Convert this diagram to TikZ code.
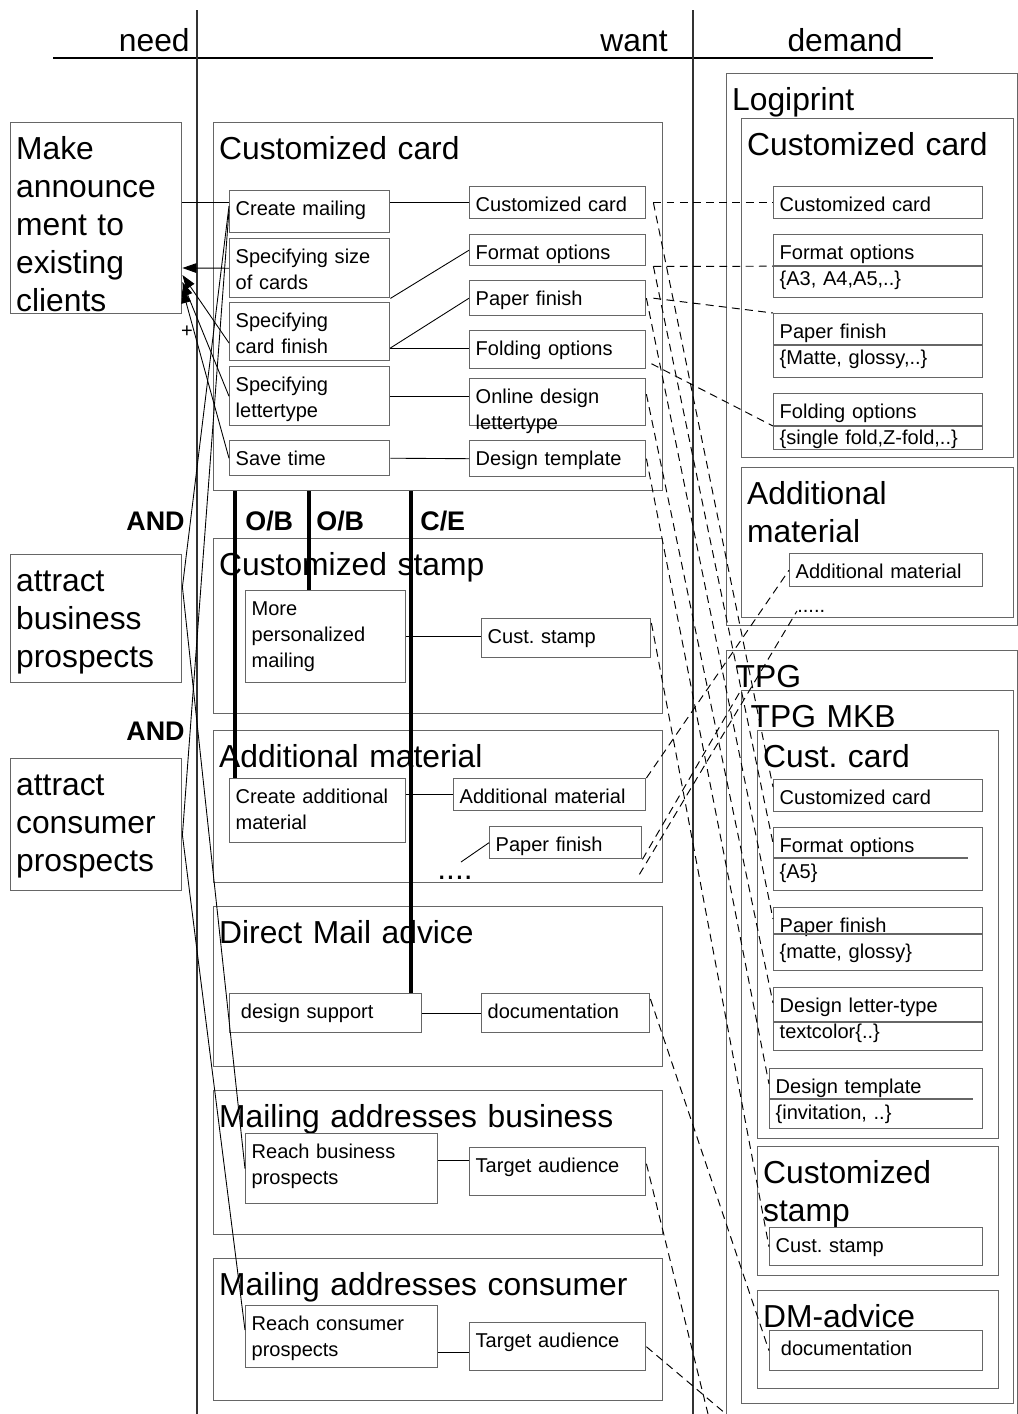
\documentclass[tikz,border=0pt]{standalone}
\usepackage{fontspec}
\setmainfont{Liberation Sans}
\usetikzlibrary{positioning,calc,arrows.meta}

\newcommand{\pxunit}{0.02cm}
\newcommand{\titlefont}{\fontsize{18.1}{21.7}\selectfont}
\newcommand{\itemfont}{\fontsize{11.4}{14.7}\selectfont}
\newcommand{\tagfont}{\fontsize{15.3}{18}\selectfont\bfseries}
\frenchspacing

\begin{document}
\begin{tikzpicture}[
    x=0.02cm, y=-0.02cm,
    groupbox/.style 2 args={
        draw=black!60, line width=0.8pt, anchor=north west,
        minimum width=#1*\pxunit, text width=#1*\pxunit-6.2pt,
        inner xsep=3.1pt, inner ysep=0pt,
        text height=36.4*\pxunit, text depth=(#2-36.4)*\pxunit,
        align=left, font=\titlefont
    },
    itembox/.style 2 args={
        draw=black!60, line width=0.8pt, anchor=north west,
        minimum width=#1*\pxunit, text width=#1*\pxunit-6.8pt,
        inner xsep=3.4pt, inner ysep=0pt,
        text height=25.2*\pxunit, text depth=(#2-25.2)*\pxunit,
        align=left, font=\itemfont
    },
    headtext/.style={font=\titlefont, inner sep=0pt},
    tag/.style={font=\tagfont, inner sep=0pt},
    link/.style={line width=0.5pt},
    contrib/.style={link, -{Triangle[length=8pt, width=5.5pt]}},
    decomp/.style={line width=2pt},
    mapline/.style={line width=0.55pt, dash pattern=on 4.5pt off 3pt},
    divider/.style={draw=black!60, line width=0.8pt}
]
\useasboundingbox (0,0) rectangle (1018,1414);

% Header
\draw[line width=0.8pt] (53,58) -- (933,58);
\draw[line width=0.7pt, black!80] (197,10) -- (197,1414);
\draw[line width=0.7pt, black!80] (693,10) -- (693,1414);
\node[headtext, anchor=base east] (needhead) at (190,51) {need};
\node[headtext, anchor=base east] (wanthead) at (668,51) {want};
\node[headtext, anchor=base] (demandhead) at (845,51) {demand};

% Need column
\node[groupbox={171}{191}] (announce) at (10,122) {Make\\announce\\ment to\\existing\\clients};
\node[groupbox={171}{128}] (business) at (10,554) {attract\\business\\prospects};
\node[groupbox={171}{132}] (consumer) at (10,758) {attract\\consumer\\prospects};
\node[tag, anchor=east] (and1) at (185,521) {AND};
\node[tag, anchor=east] (and2) at (185,731) {AND};
\node[font=\itemfont, inner sep=0pt] (plus) at (187,332) {+};

% Want column: groups
\node[groupbox={449}{368}] (gcard) at (213,122) {Customized card};
\node[groupbox={449}{175}] (gstamp) at (213,538) {Customized stamp};
\node[groupbox={449}{152}] (gadd) at (213,730) {Additional material};
\node[groupbox={449}{160}] (gdm) at (213,906) {Direct Mail advice};
\node[groupbox={449}{144}] (gbus) at (213,1090) {Mailing addresses business};
\node[groupbox={449}{142}] (gcon) at (213,1258) {Mailing addresses consumer};

% Customized card
\node[itembox={160}{42}] (mailing) at (229,190) {Create mailing};
\node[itembox={160}{59}] (size) at (229,238) {Specifying size\\of cards};
\node[itembox={160}{58}] (finish) at (229,302) {Specifying\\card finish};
\node[itembox={160}{59}] (letter) at (229,366) {Specifying\\lettertype};
\node[itembox={160}{35}] (savetime) at (229,440) {Save time};
\node[itembox={176}{32}] (wcard) at (469,186) {Customized card};
\node[itembox={176}{31}] (wformat) at (469,234) {Format options};
\node[itembox={176}{35}] (wpaper) at (469,280) {Paper finish};
\node[itembox={176}{38}] (wfold) at (469,330) {Folding options};
\node[itembox={176}{47}] (wonline) at (469,378) {Online design\\lettertype};
\node[itembox={176}{36}] (wtemplate) at (469,440) {Design template};

% Customized stamp
\node[itembox={160}{92}] (personal) at (245,590) {More\\personalized\\mailing};
\node[itembox={169}{39}] (wstamp) at (481,618) {Cust. stamp};

% Additional material
\node[itembox={176}{64}] (createadd) at (229,778) {Create additional\\material};
\node[itembox={192}{32}] (wadd) at (453,778) {Additional material};
\node[itembox={152}{32}] (wpaper2) at (489,826) {Paper finish};
\node[font=\titlefont, anchor=base west, inner sep=0pt] (adddots) at (437,879) {....};
\coordinate (adddotsend) at (461,862);

% Direct Mail advice
\node[itembox={192}{39}] (support) at (229,993) {\hspace*{3pt}design support};
\node[itembox={168}{39}] (wdoc) at (481,993) {documentation};

% Mailing addresses
\node[itembox={192}{70}] (reachbus) at (245,1133) {Reach business\\prospects};
\node[itembox={176}{48}] (wtarget1) at (469,1147) {Target audience};
\node[itembox={192}{62}] (reachcon) at (245,1305) {Reach consumer\\prospects};
\node[itembox={176}{48}] (wtarget2) at (469,1322) {Target audience};

% Demand column: Logiprint
\node[groupbox={291}{552}] (logiprint) at (726,73) {Logiprint};
\node[groupbox={272}{339}] (lcard) at (741,118) {Customized card};
\node[itembox={209}{32}] (lcustom) at (773,186) {Customized card};
\node[itembox={209}{63}] (lformat) at (773,234) {Format options\\\{A3, A4,A5,..\}};
\node[itembox={209}{64}] (lpaper) at (773,313) {Paper finish\\\{Matte, glossy,..\}};
\node[itembox={209}{56}] (lfold) at (773,393) {Folding options\\\{single fold,Z-fold,..\}};
\node[groupbox={272}{150}] (ladd) at (741,467) {Additional\\material};
\node[itembox={193}{33}] (laddmat) at (789,553) {Additional material};
\node[font=\itemfont, anchor=base west, inner sep=0pt] (ldots) at (797,612) {.....};
\draw[divider] (lformat.west |- 0,266) -- (lformat.east |- 0,266);
\draw[divider] (lpaper.west |- 0,345) -- (lpaper.east |- 0,345);
\draw[divider] (lfold.west |- 0,426) -- (lfold.east |- 0,426);

% Demand column: TPG
\node[groupbox={291}{770}] (tpg) at (726,650) {\hspace*{2pt}TPG};
\node[groupbox={272}{713}] (mkb) at (741,690) {\hspace*{2pt}TPG MKB};
\node[groupbox={241}{408}] (ccard) at (757,730) {Cust. card};
\node[itembox={209}{32}] (tcustom) at (773,779) {Customized card};
\node[itembox={209}{63}] (tformat) at (773,827) {Format options\\\{A5\}};
\node[itembox={209}{63}] (tpaper) at (773,907) {Paper finish\\\{matte, glossy\}};
\node[itembox={209}{63}] (tletter) at (773,987) {Design letter-type\\textcolor\{..\}};
\node[itembox={213}{60}] (ttemplate) at (769,1068) {Design template\\\{invitation, ..\}};
\node[groupbox={241}{129}] (cstamp) at (757,1146) {Customized\\stamp};
\node[itembox={213}{38}] (tstamp) at (769,1227) {Cust. stamp};
\node[groupbox={241}{98}] (cdm) at (757,1290) {DM-advice};
\node[itembox={213}{40}] (tdoc) at (769,1330) {\hspace*{3pt}documentation};
\draw[divider] (tformat.west |- 0,858) -- ($(tformat.east |- 0,858)+(-15,0)$);
\draw[divider] (tpaper.west |- 0,934) -- (tpaper.east |- 0,934);
\draw[divider] (tletter.west |- 0,1022) -- (tletter.east |- 0,1022);
\draw[divider] (ttemplate.west |- 0,1099) -- ($(ttemplate.east |- 0,1099)+(-10,0)$);

% Refinement links
\draw[link] (announce.east |- 0,202) -- (mailing.west |- 0,202);
\draw[link] (business.east |- 0,587) -- (mailing.west |- 0,206);
\draw[link] (consumer.east |- 0,835) -- (mailing.west |- 0,210);
\draw[link] (business.east |- 0,587) -- (reachbus.west);
\draw[link] (consumer.east |- 0,835) -- (reachcon.west |- 0,1330);
\draw[contrib] (size.west) -- (announce.east |- 0,268);
\draw[contrib] (finish.west |- 0,343) -- (announce.east |- 0,275);
\draw[contrib] (letter.west) -- (announce.east |- 0,282);
\draw[contrib] (savetime.west) -- (announce.east |- 0,289);

% Goal to feature links
\draw[link] (mailing.east |- wcard.west) -- (wcard.west);
\draw[link] (size.south east) -- (wformat.west);
\draw[link] (finish.east |- 0,348) -- (wpaper.west);
\draw[link] (finish.east |- 0,348) -- (wfold.west |- 0,348);
\draw[link] (letter.east) -- (wonline.west |- letter.east);
\draw[link] (savetime.east) -- (wtemplate.west);
\draw[link] (personal.east) -- (wstamp.west |- personal.east);
\draw[link] (createadd.east |- wadd.west) -- (wadd.west);
\draw[link] (adddotsend) -- (wpaper2.west);
\draw[link] (support.east) -- (wdoc.west);
\draw[link] (reachbus.east |- 0,1160) -- (wtarget1.west |- 0,1160);
\draw[link] (reachcon.east |- 0,1352) -- (wtarget2.west |- 0,1352);

% O/B and C/E decompositions
\draw[decomp] (235,0 |- gcard.south) -- (235,0 |- createadd.north);
\draw[decomp] (309,0 |- gcard.south) -- (309,0 |- personal.north);
\draw[decomp] (411,0 |- gcard.south) -- (411,0 |- support.north);
\node[tag, anchor=west] (ob1) at (245,521) {O/B};
\node[tag, anchor=west] (ob2) at (316,521) {O/B};
\node[tag, anchor=west] (ce) at (420,521) {C/E};

% Want to demand mapping
\coordinate (offpage1) at (708,1414);
\coordinate (offpage2) at (726,1414);
\draw[mapline] ($(wcard.east)+(7,0)$) -- (lcustom.west);
\draw[mapline] ($(wcard.east)+(7,0)$) -- ($(tcustom.north west)+(0,8)$);
\draw[mapline] ($(wformat.south east)+(7,0)$) -- (lformat.west);
\draw[mapline] ($(wformat.south east)+(7,0)$) -- ($(tformat.north west)+(0,16)$);
\draw[mapline] ($(wpaper.east)+(7,0)$) -- (lpaper.north west);
\draw[mapline] (wpaper.east) -- ($(tpaper.north west)+(0,12)$);
\draw[mapline] ($(wfold.east)+(5,14)$) -- (lfold.west |- 0,426);
\draw[mapline] ($(wonline.east)+(0,-8)$) -- ($(tletter.north west)+(0,16)$);
\draw[mapline] (wtemplate.east) -- ($(ttemplate.north west)+(0,16)$);
\draw[mapline] ($(wstamp.north east)+(0,5)$) -- (tstamp.west);
\draw[mapline] ($(wdoc.north east)+(0,6)$) -- (tdoc.west);
\draw[mapline] (wadd.north east) -- (laddmat.west);
\draw[mapline] (wpaper2.south east) -- (mkb.north west);
\draw[mapline] ($(wpaper2.south east)+(-3,15)$) -- (ldots.west);
\draw[mapline] ($(wtarget1.east)+(0,-8)$) -- (offpage1);
\draw[mapline] (wtarget2.east) -- (offpage2);

\end{tikzpicture}
\end{document}
